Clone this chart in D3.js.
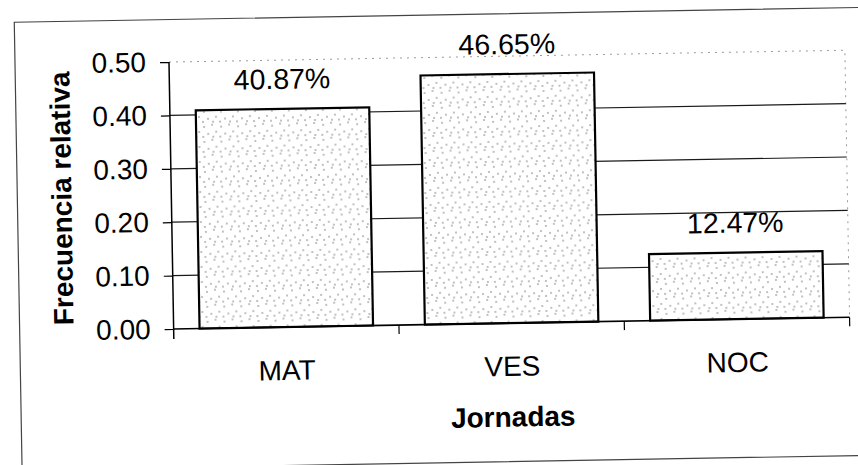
<!DOCTYPE html>
<html>
<head>
  <meta charset="utf-8">
  <title>Frecuencia relativa por jornada</title>
  <style>
    body {
      margin: 0;
      padding: 0;
      background: white;
      font-family: "Liberation Sans", Arial, sans-serif;
    }
    .grid line {
      stroke: #1a1a1a;
      stroke-width: 1.2;
    }
    .bar {
      stroke: black;
      stroke-width: 2.2;
    }
    .value {
      font-size: 28.5px;
      text-anchor: middle;
    }
    .title {
      font-size: 28px;
      font-weight: bold;
      text-anchor: middle;
    }
  </style>
</head>
<body>
  <div id="chart"></div>

  <script src="https://d3js.org/d3.v7.min.js"></script>
  <script>

  // data
  var categories = ["MAT", "VES", "NOC"]
  var values = [0.4087, 0.4665, 0.1247]
  var yTicks = [0, 0.1, 0.2, 0.3, 0.4, 0.5]

  var width = 858,
      height = 465

  var svg = d3.select("#chart")
      .append("svg")
      .attr("width", width)
      .attr("height", height)

  // dotted fill used by the bars
  var defs = svg.append("defs")
  var pattern = defs.append("pattern")
      .attr("id", "stipple")
      .attr("patternUnits", "userSpaceOnUse")
      .attr("width", 17)
      .attr("height", 15)
  pattern.append("rect").attr("width", 17).attr("height", 15).attr("fill", "white")
  var dots = [[2, 3], [10, 1], [14, 8], [6, 10], [1, 13], [11, 13]]
  pattern.selectAll("circle")
    .data(dots).enter().append("circle")
    .attr("cx", function (d) { return d[0] })
    .attr("cy", function (d) { return d[1] })
    .attr("r", 0.7)
    .attr("fill", "#555")

  // the scan is tilted a little, so the whole drawing is too
  var g = svg.append("g")
      .attr("transform", "rotate(-1, 430, 232)")

  // outer frame
  g.append("rect")
    .attr("x", 18)
    .attr("y", 15)
    .attr("width", 860)
    .attr("height", 448)
    .attr("fill", "none")
    .attr("stroke", "#444")
    .attr("stroke-width", 1.2)

  var x = d3.scaleBand()
      .domain(categories)
      .range([172, 848])
      .paddingInner(0.23)
      .paddingOuter(0.115)

  var y = d3.scaleLinear()
      .domain([0, 0.5])
      .range([324.5, 57.5])

  // faint top and right edge of the plot area
  g.append("path")
    .attr("d", "M172," + y(0.5) + "H848V" + y(0))
    .attr("fill", "none")
    .attr("stroke", "#999")
    .attr("stroke-width", 1)
    .attr("stroke-dasharray", "2,5")

  // gridlines
  g.append("g")
    .attr("class", "grid")
    .selectAll("line")
    .data(yTicks.filter(function (d) { return d > 0 && d < 0.5 }))
    .enter().append("line")
    .attr("x1", 172)
    .attr("x2", 848)
    .attr("y1", function (d) { return y(d) })
    .attr("y2", function (d) { return y(d) })

  // bars
  g.append("g")
    .selectAll("rect")
    .data(values)
    .enter().append("rect")
    .attr("class", "bar")
    .attr("x", function (d, i) { return x(categories[i]) })
    .attr("y", function (d) { return y(d) })
    .attr("width", x.bandwidth())
    .attr("height", function (d) { return y(0) - y(d) })
    .attr("fill", "url(#stipple)")

  // value labels
  var formatPct = d3.format(".2%")
  g.append("g")
    .selectAll("text")
    .data(values)
    .enter().append("text")
    .attr("class", "value")
    .attr("x", function (d, i) { return x(categories[i]) + x.bandwidth() / 2 })
    .attr("y", function (d) { return y(d) - 20 })
    .text(function (d) { return formatPct(d) })

  // y axis
  var yAxis = g.append("g")
      .attr("transform", "translate(172,0)")
      .call(d3.axisLeft(y)
        .tickValues(yTicks)
        .tickFormat(d3.format(".2f"))
        .tickSize(9)
        .tickPadding(14))
  yAxis.select(".domain").attr("stroke-width", 1.5).attr("d", "M0," + (y(0) + 10) + "V" + y(0.5))
  yAxis.selectAll(".tick line").attr("stroke-width", 1.2)
  yAxis.selectAll("text")
    .attr("font-size", 28)
    .attr("font-family", "Liberation Sans, Arial, sans-serif")
    .attr("fill", "black")

  // x axis, ticks sit between the categories
  var xAxis = g.append("g")
      .attr("transform", "translate(0," + y(0) + ")")
      .call(d3.axisBottom(x).tickSize(0).tickPadding(33))
  xAxis.select(".domain").attr("stroke-width", 1.6).attr("d", "M172,0H848")
  xAxis.selectAll("text")
    .attr("font-size", 28)
    .attr("font-family", "Liberation Sans, Arial, sans-serif")
    .attr("fill", "black")

  xAxis.selectAll(".sep")
    .data(categories.slice(1).concat([null]))
    .enter().append("line")
    .attr("class", "sep")
    .attr("x1", function (d) { return d ? x(d) - x.step() * x.paddingInner() / 2 : 848 })
    .attr("x2", function (d) { return d ? x(d) - x.step() * x.paddingInner() / 2 : 848 })
    .attr("y1", 0)
    .attr("y2", 9)
    .attr("stroke", "black")
    .attr("stroke-width", 1.2)

  // axis titles
  g.append("text")
    .attr("class", "title")
    .attr("x", 510)
    .attr("y", 428)
    .text("Jornadas")

  g.append("text")
    .attr("class", "title")
    .attr("transform", "translate(72,192) rotate(-90)")
    .text("Frecuencia relativa")

  </script>
</body>
</html>
